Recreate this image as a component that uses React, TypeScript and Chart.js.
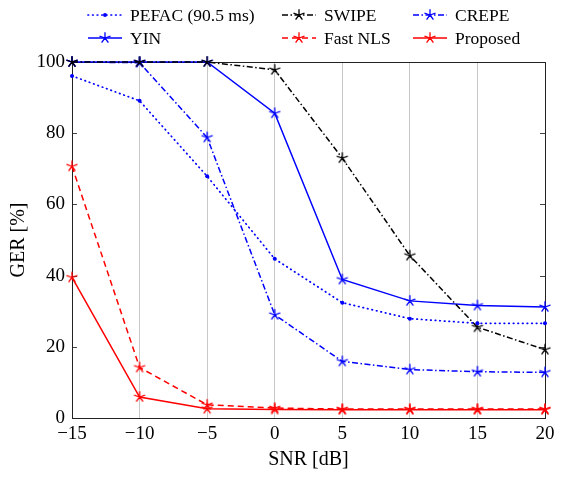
import React, { useEffect, useRef } from "react";
import { Chart, registerables } from "chart.js";
Chart.register(...registerables);

const snr = [-15, -10, -5, 0, 5, 10, 15, 20];
const pefac = [96.1, 89.1, 67.9, 44.7, 32.4, 27.9, 26.6, 26.6];
const swipe = [100, 100, 100, 97.8, 73.0, 45.6, 25.5, 19.2];
const crepe = [100, 99.8, 78.8, 29.0, 15.9, 13.6, 13.0, 12.8];
const yin = [100, 100, 100, 85.6, 38.9, 32.9, 31.6, 31.2];
const fastNls = [70.7, 14.2, 3.7, 2.8, 2.5, 2.5, 2.5, 2.5];
const proposed = [39.5, 5.9, 2.6, 2.4, 2.3, 2.3, 2.3, 2.3];
const yTicks = [0, 20, 40, 60, 80, 100];
const xTicks = [-15, -10, -5, 0, 5, 10, 15, 20];

const FONT = "'Liberation Serif', 'Times New Roman', serif";
const BLUE = "#0000ff";
const RED = "#ff0000";
const BLACK = "#000000";

function drawStar(ctx: CanvasRenderingContext2D, cx: number, cy: number, r: number, color: string) {
  ctx.save();
  ctx.strokeStyle = color;
  ctx.lineWidth = 1.3;
  ctx.setLineDash([]);
  ctx.beginPath();
  for (let i = 0; i < 5; i++) {
    const a = -Math.PI / 2 + (i * 2 * Math.PI) / 5;
    ctx.moveTo(cx, cy);
    ctx.lineTo(cx + r * Math.cos(a), cy + r * Math.sin(a));
  }
  ctx.stroke();
  ctx.restore();
}

function starCanvas(color: string) {
  const c = document.createElement("canvas");
  c.width = 14;
  c.height = 14;
  const ctx = c.getContext("2d")!;
  drawStar(ctx, 7, 7, 5.8, color);
  return c;
}

type Series = {
  label: string;
  data: number[];
  color: string;
  dash: number[];
  cap: CanvasLineCap;
  marker: "star" | "dot";
};

const series: Series[] = [
  { label: "PEFAC (90.5 ms)", data: pefac, color: BLUE, dash: [0.6, 4], cap: "round", marker: "dot" },
  { label: "SWIPE", data: swipe, color: BLACK, dash: [6, 2.5, 1.5, 2.5], cap: "butt", marker: "star" },
  { label: "CREPE", data: crepe, color: BLUE, dash: [6, 2.5, 1.5, 2.5], cap: "butt", marker: "star" },
  { label: "YIN", data: yin, color: BLUE, dash: [], cap: "butt", marker: "star" },
  { label: "Fast NLS", data: fastNls, color: RED, dash: [6, 4], cap: "butt", marker: "star" },
  { label: "Proposed", data: proposed, color: RED, dash: [], cap: "butt", marker: "star" },
];

const legendCols = [88, 282, 413];
const legendRows = [15, 38];

const decorPlugin = {
  id: "decor",
  beforeDatasetsDraw(chart: any) {
    const { ctx, chartArea } = chart;
    const ys = chart.scales.y;
    ctx.save();
    ctx.strokeStyle = "#444";
    ctx.lineWidth = 1;
    for (const t of yTicks) {
      const py = Math.round(ys.getPixelForValue(t)) + 0.5;
      ctx.beginPath();
      ctx.moveTo(chartArea.left, py);
      ctx.lineTo(chartArea.left + 5, py);
      ctx.moveTo(chartArea.right, py);
      ctx.lineTo(chartArea.right - 5, py);
      ctx.stroke();
    }
    ctx.strokeStyle = "#222";
    ctx.strokeRect(
      Math.round(chartArea.left) + 0.5,
      Math.round(chartArea.top) + 0.5,
      Math.round(chartArea.right - chartArea.left),
      Math.round(chartArea.bottom - chartArea.top)
    );
    ctx.restore();
  },
  afterDraw(chart: any) {
    const { ctx } = chart;
    ctx.save();
    ctx.font = `17.5px ${FONT}`;
    ctx.textBaseline = "middle";
    ctx.fillStyle = "#000";
    series.forEach((s, i) => {
      const x0 = legendCols[i % 3];
      const y = legendRows[Math.floor(i / 3)];
      ctx.strokeStyle = s.color;
      ctx.lineWidth = s.marker === "dot" ? 1.7 : 1.5;
      ctx.lineCap = s.cap;
      ctx.setLineDash(s.dash);
      ctx.beginPath();
      ctx.moveTo(x0, y);
      ctx.lineTo(x0 + 34, y);
      ctx.stroke();
      ctx.setLineDash([]);
      ctx.lineCap = "butt";
      if (s.marker === "star") drawStar(ctx, x0 + 17, y, 5.8, s.color);
      else {
        ctx.fillStyle = s.color;
        ctx.beginPath();
        ctx.arc(x0 + 17, y, 2, 0, Math.PI * 2);
        ctx.fill();
      }
      ctx.fillStyle = "#000";
      ctx.fillText(s.label, x0 + 42, y + 1);
    });
    ctx.restore();
  },
};

export default function App() {
  const ref = useRef<HTMLCanvasElement>(null);
  useEffect(() => {
    if (!ref.current) return;
    const datasets = series.map((s) => ({
      label: s.label,
      data: snr.map((x, i) => ({ x, y: s.data[i] })),
      borderColor: s.color,
      backgroundColor: s.color,
      borderWidth: s.marker === "dot" ? 1.7 : 1.5,
      borderDash: s.dash,
      borderCapStyle: s.cap,
      pointStyle: s.marker === "star" ? starCanvas(s.color) : "circle",
      pointRadius: s.marker === "star" ? 6 : 2,
      pointBorderWidth: 0,
      pointBackgroundColor: s.color,
      tension: 0,
      clip: false as any,
      fill: false,
    }));
    const chart = new Chart(ref.current, {
      type: "line",
      data: { datasets },
      plugins: [decorPlugin],
      options: {
        animation: false,
        responsive: false,
        devicePixelRatio: 1,
        layout: { padding: { left: 0, right: 17, top: 62, bottom: 0 } },
        plugins: { legend: { display: false }, tooltip: { enabled: false } },
        scales: {
          x: {
            type: "linear",
            min: -15,
            max: 20,
            afterFit: (s: any) => {
              s.height = 66;
            },
            afterBuildTicks: (s: any) => {
              s.ticks = xTicks.map((v) => ({ value: v }));
            },
            ticks: {
              font: { family: FONT, size: 19 },
              color: "#000",
              padding: 5,
              callback: (v: any) => String(v).replace("-", "\u2212"),
            },
            grid: { color: "#c8c8c8", lineWidth: 1, drawTicks: false },
            border: { display: false },
            title: {
              display: true,
              text: "SNR [dB]",
              font: { family: FONT, size: 20 },
              color: "#000",
              padding: { top: 0, bottom: 12 },
            },
          },
          y: {
            min: 0,
            max: 100,
            afterFit: (s: any) => {
              s.width = 72;
            },
            afterBuildTicks: (s: any) => {
              s.ticks = yTicks.map((v) => ({ value: v }));
            },
            ticks: {
              font: { family: FONT, size: 19 },
              color: "#000",
              padding: 7,
            },
            grid: { display: false, drawTicks: false },
            border: { display: false },
            title: {
              display: true,
              text: "GER [%]",
              font: { family: FONT, size: 20 },
              color: "#000",
              padding: { top: 7, bottom: 0 },
            },
          },
        },
      },
    });
    return () => chart.destroy();
  }, []);
  return (
    <div style={{ position: "fixed", left: 0, top: 0, width: 562, height: 484, background: "#fff" }}>
      <canvas ref={ref} width={562} height={484} style={{ width: 562, height: 484 }} />
    </div>
  );
}
